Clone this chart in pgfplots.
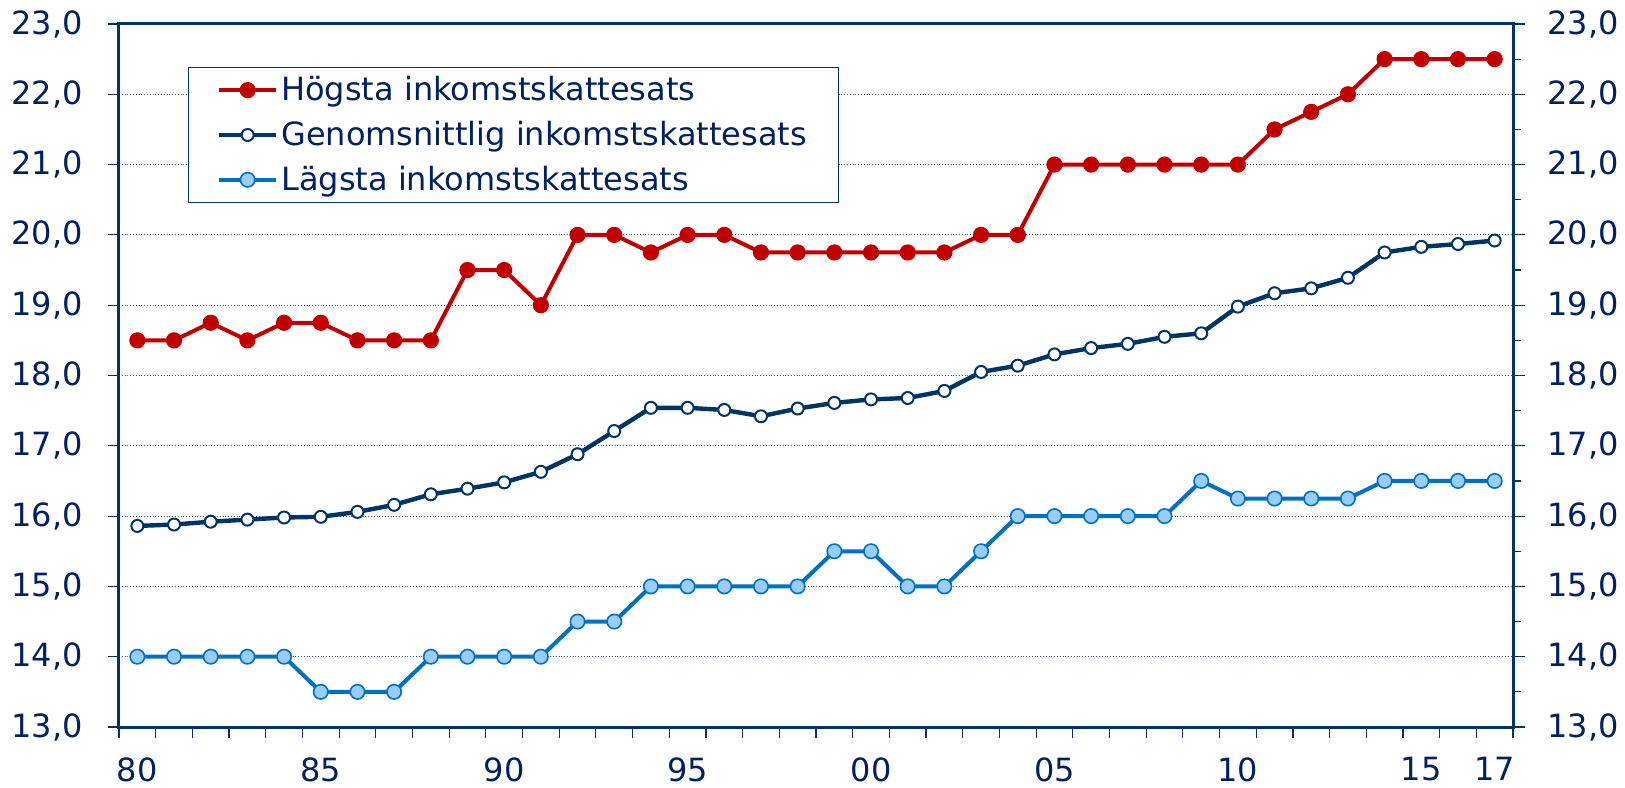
\documentclass[border=0pt]{standalone}
\usepackage{pgfplots}
\pgfplotsset{compat=1.18}
\usepackage{fontspec}
\setmainfont{DejaVu Sans}
\definecolor{navy}{HTML}{003366}
\definecolor{txt}{HTML}{002060}
\definecolor{myred}{HTML}{C00000}
\definecolor{myblue}{HTML}{0070C0}
\definecolor{lblue}{HTML}{99CCFF}
\definecolor{gridc}{HTML}{3A5A85}
\pgfplotstableread{
year hog gen lag
1980 18.5 15.86 14.0
1981 18.5 15.88 14.0
1982 18.75 15.92 14.0
1983 18.5 15.95 14.0
1984 18.75 15.98 14.0
1985 18.75 15.99 13.5
1986 18.5 16.06 13.5
1987 18.5 16.16 13.5
1988 18.5 16.31 14.0
1989 19.5 16.39 14.0
1990 19.5 16.48 14.0
1991 19.0 16.63 14.0
1992 20.0 16.88 14.5
1993 20.0 17.21 14.5
1994 19.75 17.54 15.0
1995 20.0 17.54 15.0
1996 20.0 17.51 15.0
1997 19.75 17.42 15.0
1998 19.75 17.53 15.0
1999 19.75 17.61 15.5
2000 19.75 17.66 15.5
2001 19.75 17.68 15.0
2002 19.75 17.78 15.0
2003 20.0 18.05 15.5
2004 20.0 18.14 16.0
2005 21.0 18.30 16.0
2006 21.0 18.39 16.0
2007 21.0 18.45 16.0
2008 21.0 18.55 16.0
2009 21.0 18.60 16.5
2010 21.0 18.98 16.25
2011 21.5 19.17 16.25
2012 21.75 19.24 16.25
2013 22.0 19.39 16.25
2014 22.5 19.75 16.5
2015 22.5 19.83 16.5
2016 22.5 19.87 16.5
2017 22.5 19.92 16.5
}\datatable
\begin{document}
\begin{tikzpicture}
\path[use as bounding box] (-59.5pt,-30pt) rectangle (753pt,363.5pt);
\pgfplotsset{
  base/.style={
    at={(0,0)}, anchor=south west,
    scale only axis, width=697pt, height=351.5pt,
    xmin=1979.5, xmax=2017.5, ymin=13, ymax=23,
    font=\fontsize{16}{19}\selectfont, color=txt,
    /pgf/number format/assume math mode=true,
    /pgf/number format/fixed, /pgf/number format/fixed zerofill,
    /pgf/number format/precision=1, /pgf/number format/use comma,
    clip=false,
  }
}
% left minor ticks (inside)
\begin{axis}[base,
  axis line style={draw=none},
  xtick=\empty, ytick=\empty,
  minor ytick={13.5,14.5,...,22.5},
  ytick pos=left, tick align=inside,
  minor tick length=4.5pt,
  minor tick style={navy, line width=0.6pt},
]
\end{axis}
% right axis labels and ticks
\begin{axis}[base,
  axis line style={draw=none},
  xtick=\empty,
  ytick={13,14,...,23},
  minor ytick={13.5,14.5,...,22.5},
  ytick pos=right, yticklabel pos=right, tick align=outside,
  major tick length=6pt, minor tick length=4pt,
  tick style={navy, line width=0.6pt},
  yticklabel style={anchor=west, inner sep=0pt, xshift=11pt},
]
\end{axis}
% main axis
\begin{axis}[base,
  axis line style={navy, line width=1.5pt},
  ytick={13,14,...,23},
  ytick pos=left, tick align=outside,
  major tick length=5.5pt,
  ymajorgrids,
  major grid style={gridc, densely dotted, line width=0.5pt},
  yticklabel style={anchor=east, inner sep=0pt, xshift=-12.5pt},
  xtick={1979.5,1980.5,...,2017.5},
  xticklabels={},
  xtick pos=left,
  x tick style={navy, line width=0.6pt},
  y tick style={navy, line width=0.6pt},
  extra x ticks={1980,1985,1990,1995,2000,2005,2010,2015,2017},
  extra x tick labels={80,85,90,95,00,05,10,15,17},
  extra x tick style={major tick length=0pt, grid=none,
    tick label style={anchor=north, inner sep=0pt, yshift=-15pt}},
  legend style={at={(axis description cs:0.0495,0.9388)}, anchor=north west,
    draw=navy, line width=0.5pt, font=\fontsize{16}{19}\selectfont, text=txt,
    inner xsep=14.25pt, inner ysep=2.5pt, row sep=4.75pt,
    nodes={inner xsep=1.5pt}},
  legend cell align=left,
  legend image code/.code={\draw[mark repeat=2,mark phase=2,#1] plot coordinates {(0cm,0cm)(0.5cm,0cm)(1.0cm,0cm)};},
]
\addplot[myred, line width=2pt, mark=*, mark size=3.8pt, mark options={fill=myred, draw=myred, line width=0.5pt}]
  table[x=year, y=hog] {\datatable};
\addlegendentry{Högsta inkomstskattesats}
\addplot[navy, line width=2.2pt, mark=*, mark size=3pt, mark options={fill=white, draw=navy, line width=1pt}]
  table[x=year, y=gen] {\datatable};
\addlegendentry{Genomsnittlig inkomstskattesats}
\addplot[myblue, line width=2pt, mark=*, mark size=3.6pt, mark options={fill=lblue, draw=myblue, line width=0.8pt}]
  table[x=year, y=lag] {\datatable};
\addlegendentry{Lägsta inkomstskattesats}
\end{axis}
\end{tikzpicture}
\end{document}
